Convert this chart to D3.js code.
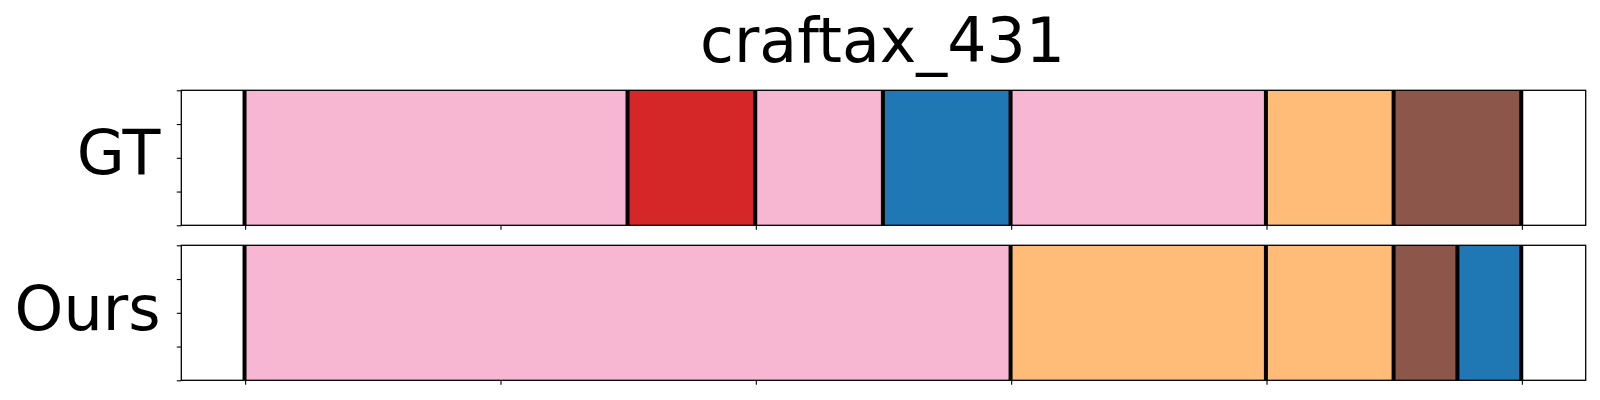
<!DOCTYPE html>
<html>
<head>
<meta charset="utf-8">
<script src="https://cdn.jsdelivr.net/npm/d3@7"></script>
<style>
  html, body { margin: 0; padding: 0; background: #fff; }
  svg { display: block; }
  text { font-family: "DejaVu Sans", sans-serif; fill: #000; }
</style>
</head>
<body>
<svg id="chart" width="1600" height="400"></svg>
<script>
// ---- data ----
const title = "craftax_431";
const rowLabels = ["GT", "Ours"];
const xTicks = [0, 1, 2, 3, 4, 5];
const yTicks = [0, 0.25, 0.5, 0.75, 1];

// segment boundaries (x units) and class ids, one row each
const gtStart = [0, 1.5, 2, 2.5, 3, 4, 4.5];
const gtEnd   = [1.5, 2, 2.5, 3, 4, 4.5, 5];
const gtClass = [13, 6, 13, 0, 13, 3, 10];

const oursStart = [0, 3, 4, 4.5, 4.75];
const oursEnd   = [3, 4, 4.5, 4.75, 5];
const oursClass = [13, 3, 3, 10, 0];

// tab20 palette
const tab20 = ["#1f77b4","#aec7e8","#ff7f0e","#ffbb78","#2ca02c","#98df8a",
  "#d62728","#ff9896","#9467bd","#c5b0d5","#8c564b","#c49c94",
  "#e377c2","#f7b6d2","#7f7f7f","#c7c7c7","#bcbd22","#dbdb8d",
  "#17becf","#9edae5"];

const rows = [
  { label: rowLabels[0], start: gtStart, end: gtEnd, cls: gtClass },
  { label: rowLabels[1], start: oursStart, end: oursEnd, cls: oursClass }
];

// ---- layout ----
const svg = d3.select("#chart");
const left = 181.3, right = 1585.7;
const panelTops = [90.3, 245.3];
const panelH = 135;
const labelBaselines = [174, 330];

const x = d3.scaleLinear().domain([-0.25, 5.25]).range([left, right]);
const color = i => tab20[i];

svg.append("text")
  .attr("x", (left + right) / 2 - 1)
  .attr("y", 62.3)
  .attr("text-anchor", "middle")
  .style("font-size", "61.7px")
  .text(title);

rows.forEach((row, ri) => {
  const top = panelTops[ri];
  const y = d3.scaleLinear().domain([0, 1]).range([top + panelH, top]);
  const g = svg.append("g");

  const segs = row.start.map((s, i) => ({ s, e: row.end[i], c: row.cls[i] }));

  g.selectAll("rect.seg").data(segs).enter().append("rect")
    .attr("class", "seg")
    .attr("x", d => x(d.s))
    .attr("width", d => x(d.e) - x(d.s))
    .attr("y", y(1))
    .attr("height", y(0) - y(1))
    .attr("fill", d => color(d.c));

  const bounds = Array.from(new Set(row.start.concat(row.end)));
  g.selectAll("line.bd").data(bounds).enter().append("line")
    .attr("class", "bd")
    .attr("x1", d => x(d) - 0.6).attr("x2", d => x(d) - 0.6)
    .attr("y1", y(1)).attr("y2", y(0))
    .attr("stroke", "#000")
    .attr("stroke-width", 4);

  // axes
  const xAxis = d3.axisBottom(x).tickValues(xTicks).tickSize(4.5).tickFormat("");
  const gx = g.append("g").attr("transform", `translate(0,${y(0)})`).call(xAxis);
  gx.select(".domain").remove();
  gx.selectAll("line").attr("stroke", "#000").attr("stroke-width", 1.1);

  const yAxis = d3.axisLeft(y).tickValues(yTicks).tickSize(4.5).tickFormat("");
  const gy = g.append("g").attr("transform", `translate(${left},0)`).call(yAxis);
  gy.select(".domain").remove();
  gy.selectAll("line").attr("stroke", "#000").attr("stroke-width", 1.1);

  // frame
  g.append("rect")
    .attr("x", left).attr("y", y(1))
    .attr("width", right - left).attr("height", y(0) - y(1))
    .attr("fill", "none").attr("stroke", "#000").attr("stroke-width", 1.3);

  svg.append("text")
    .attr("x", 160.5)
    .attr("y", labelBaselines[ri])
    .attr("text-anchor", "end")
    .style("font-size", "62px")
    .text(row.label);
});
</script>
</body>
</html>
